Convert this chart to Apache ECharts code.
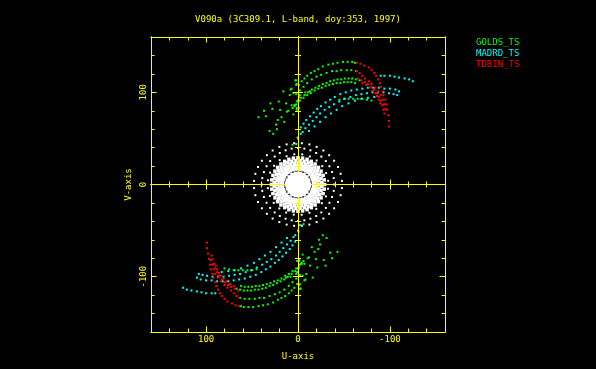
<!DOCTYPE html>
<html>
<head>
<meta charset="utf-8">
<script src="https://cdn.jsdelivr.net/npm/echarts@6/dist/echarts.min.js"></script>
<style>html,body{margin:0;padding:0;background:#000;}#c{width:596px;height:369px;}</style>
</head>
<body>
<div id="c"></div>
<script>
// ---- DATA (u, v) ; every visibility is plotted together with its conjugate (-u, -v) ----
const titleText = 'V090a (3C309.1, L-band, doy:353, 1997)';
const seriesNames = ['GOLDS_TS', 'MADRD_TS', 'TDBIN_TS'];
const uTickLabels = [100, 0, -100];
const vTickLabels = [-100, 0, 100];
const minorTickValues = [-140, -120, -80, -60, -40, -20, 20, 40, 60, 80, 120, 140];
const majorTickValues = [-100, 0, 100];
const zeroMajorValues = [-100, 100];

const goldsTrack = [
  [-1,108],[-4,112],[-7,115],[-10,118],[-14,121],[-18,123],[-22,125],[-27,128],[-33,130],[-38,131],[-43,132],[-49,133],[-54,133],[-59,133],[-62,132],
  [2,98],[-2,102],[-6,106],[-10,110],[-15,114],[-20,117],[-25,119],[-31,121],[-37,123],[-42,123],[-47,124],[-53,124],[-58,124],[-63,123],
  [4,86],[1,90],[-3,94],[-7,97],[-11,100],[-15,103],[-19,105],[-23,107],[-27,109],[-31,110],[-35,112],[-39,113],[-43,114],[-47,114],[-51,115],[-55,115],[-59,115],[-63,114],[-67,113],
  [6,83],[2,87],[-2,91],[-6,94],[-10,97],[-14,99],[-18,102],[-22,104],[-26,105],[-30,107],[-34,108],[-38,109],[-42,110],[-46,110],[-50,111],[-54,111],[-58,111],[-62,110],
  [-45,92],[-50,93],[-55,93],[-60,93],[-65,93],[-70,93],[-75,92],[-80,91]
];
const goldsScatter = [
  [43,73],[37,80],[35,74],[30,88],[28,82],[31,58],[27,55],[24,65],[23,60],[22,70],[21,90],[19.5,81],[18,73],[16,101],[15,68],
  [13,88],[12,79],[10.5,80],[9,97],[8,103],[7,86],[5,76],[4,85],[3,113],[2,108],[1.4,83],[0,91],[-1,83],[0.5,51],[-1,95],[6,43],
  [2,113],[1.4,109],[7,104],[5,99],[0.3,91],[3,86],[1.4,81],[-2,97],[-8,100],[-13,101]
];
const madrdTrack = [
  [-90,118],[-94,118],[-100,118],[-105,117],[-110,116],[-116,115],[-121,114],[-125,112],
  [-3,62],[-6,66],[-9,70],[-13,74],[-17,78],[-21,82],[-25,85],[-30,89],[-35,92],[-40,95],[-46,98],[-52,100],[-58,102],[-64,103],[-70,104],[-76,105],[-82,105],[-88,105],[-94,104],[-100,104],[-106,103],[-110,101],
  [-5,57],[-8,61],[-12,65],[-16,69],[-20,73],[-24,77],[-29,81],[-34,84],[-39,87],[-45,90],[-51,93],[-57,95],[-63,97],[-69,98],[-75,99],[-81,100],[-87,100],[-93,100],[-99,99],[-104,98],[-108,97],
  [-12,58],[-18,63],[-24,68],[-30,73],[-36,77],[-42,81],[-48,85],[-55,88],[-62,91],[-69,93],[-76,94],[-83,95],
  [2,44],[0,50],[-3,55]
];
const tdbinTrack = [
  [-64,132],[-68,131],[-72,129],[-77,127],[-80,124],[-83,121],[-85,118],[-87,114],[-89,110],[-90,106],[-92,101],[-93,97],[-95,92],[-96,87],[-97,81],[-98,75],[-99,69],[-99,63],
  [-64,123],[-67,121],[-70,118],[-73,115],[-77,112],[-80,109],[-84,105],[-87,101],[-90,97],[-92,92],[-93.5,87],[-95,82],
  [-65,115],[-69,113],[-73,111],[-76,109],[-80,106],[-83,103],[-86,99],[-88,95],[-90,91],[-91.5,86],[-93,81],[-94,77],
  [-70,110],[-74,108],[-78,105],[-81,102],[-84,99],[-86,96],[-88,92],[-89.5,88]
];
const whiteCore = [
  [0.5,0.5],
  [4,0.5],[2.8,2.8],[0.5,4],[-2.8,2.8],
  [8,0.5],[6.9,4],[4,6.9],[0.5,8],[-4,6.9],[-6.9,4],
  [11.5,0.5],[10.8,3.9],[8.8,7.4],[5.8,10],[2,11.3],[-2,11.3],[-5.8,10],[-8.8,7.4],[-10.8,3.9]
];
const whiteDense = [
  [17,0],[16.7,3.0],[16.0,5.8],[14.7,8.5],[13.0,10.9],[10.9,13.0],[8.5,14.7],[5.8,16.0],[3.0,16.7],[0,17],[-3.0,16.7],[-5.8,16.0],[-8.5,14.7],[-10.9,13.0],[-13.0,10.9],[-14.7,8.5],[-16.0,5.8],[-16.7,3.0],
  [19.9,1.7],[19.3,5.2],[18.1,8.5],[16.4,11.5],[14.1,14.1],[11.5,16.4],[8.5,18.1],[5.2,19.3],[1.7,19.9],[-1.7,19.9],[-5.2,19.3],[-8.5,18.1],[-11.5,16.4],[-14.1,14.1],[-16.4,11.5],[-18.1,8.5],[-19.3,5.2],[-19.9,1.7],
  [23,0],[22.7,4.0],[21.6,7.9],[19.9,11.5],[17.6,14.8],[14.8,17.6],[11.5,19.9],[7.9,21.6],[4.0,22.7],[0,23],[-4.0,22.7],[-7.9,21.6],[-11.5,19.9],[-14.8,17.6],[-17.6,14.8],[-19.9,11.5],[-21.6,7.9],[-22.7,4.0],
  [25.9,2.3],[25.1,6.7],[23.6,11.0],[21.3,14.9],[18.4,18.4],[14.9,21.3],[11.0,23.6],[6.7,25.1],[2.3,25.9],[-2.3,25.9],[-6.7,25.1],[-11.0,23.6],[-14.9,21.3],[-18.4,18.4],[-21.3,14.9],[-23.6,11.0],[-25.1,6.7],[-25.9,2.3],
  [29,0],[28.6,5.0],[27.3,9.9],[25.1,14.5],[22.2,18.6],[18.6,22.2],[14.5,25.1],[9.9,27.3],[5.0,28.6],[0,29],[-5.0,28.6],[-9.9,27.3],[-14.5,25.1],[-18.6,22.2],[-22.2,18.6],[-25.1,14.5],[-27.3,9.9],[-28.6,5.0]
];
const whiteRings = [
  [32.7,4.6],[30.4,12.9],[26.0,20.3],[19.9,26.4],[12.4,30.6],[4.0,32.8],[-4.6,32.7],[-12.9,30.4],[-20.3,26.0],[-26.4,19.9],[-30.6,12.4],[-32.8,4.0],
  [39.5,0],[38.9,6.9],[37.1,13.5],[34.2,19.8],[30.3,25.4],[25.4,30.3],[19.8,34.2],[13.5,37.1],[6.9,38.9],[0,39.5],[-6.9,38.9],[-13.5,37.1],[-19.8,34.2],[-25.4,30.3],[-30.3,25.4],[-34.2,19.8],[-37.1,13.5],[-38.9,6.9],
  [47.8,3.9],[46.4,11.6],[43.5,19.0],[39.3,25.8],[33.9,31.8],[27.6,36.9],[20.3,40.8],[12.4,43.5],[4.2,44.8],[-4.2,44.8],[-12.4,43.5],[-20.3,40.8],[-27.6,36.9],[-33.9,31.8],[-39.3,25.8],[-43.5,19.0],[-46.4,11.6],[-47.8,3.9]
];

// ---- helpers ----
function withConjugates(pts) {
  const out = [];
  pts.forEach(p => { out.push(p); out.push([-p[0], -p[1]]); });
  return out;
}
const YEL = '#ffff00', GRN = '#00ff00', CYN = '#00ffff', RED = '#ff0000', WHT = '#ffffff';
const FONT = 'DejaVu Sans Mono';

function axisBase(dim, pos, vals, len, inside, onZero) {
  const a = {
    type: 'value', min: -160, max: 160, position: pos,
    axisLine: { show: true, onZero: !!onZero, lineStyle: { color: YEL, width: 1 } },
    axisTick: { show: true, inside: inside, length: len, customValues: vals, lineStyle: { color: YEL, width: 1 } },
    axisLabel: { show: false },
    splitLine: { show: false },
    z: 10
  };
  if (onZero) a.axisLine.onZeroAxisIndex = 0;
  if (dim === 'x') a.inverse = true;
  return a;
}

const xAxes = [
  Object.assign(axisBase('x', 'bottom', majorTickValues, 5.5, true, false), {
    axisLabel: { show: true, customValues: uTickLabels, color: YEL, fontFamily: FONT, fontSize: 9, margin: 3 },
    name: 'U-axis', nameLocation: 'middle', nameGap: 20,
    nameTextStyle: { color: YEL, fontFamily: FONT, fontSize: 9 }
  }),
  axisBase('x', 'bottom', minorTickValues, 3.5, true, false),
  axisBase('x', 'top', majorTickValues, 5.5, true, false),
  axisBase('x', 'top', minorTickValues, 3.5, true, false),
  axisBase('x', 'bottom', minorTickValues, 3, true, true),
  axisBase('x', 'bottom', minorTickValues, 3, false, true),
  axisBase('x', 'bottom', zeroMajorValues, 5, true, true),
  axisBase('x', 'bottom', zeroMajorValues, 5, false, true)
];
const yAxes = [
  Object.assign(axisBase('y', 'left', majorTickValues, 5.5, true, false), {
    axisLabel: { show: true, customValues: vTickLabels, rotate: 90, color: YEL, fontFamily: FONT, fontSize: 9, margin: 3 },
    name: 'V-axis', nameLocation: 'middle', nameGap: 18, nameRotate: 90,
    nameTextStyle: { color: YEL, fontFamily: FONT, fontSize: 9 }
  }),
  axisBase('y', 'left', minorTickValues, 3.5, true, false),
  axisBase('y', 'right', majorTickValues, 5.5, true, false),
  axisBase('y', 'right', minorTickValues, 3.5, true, false),
  axisBase('y', 'left', minorTickValues, 3, true, true),
  axisBase('y', 'left', minorTickValues, 3, false, true),
  axisBase('y', 'left', zeroMajorValues, 5, true, true),
  axisBase('y', 'left', zeroMajorValues, 5, false, true)
];

function scatter(name, data, color, size, symbol, z) {
  return {
    name: name, type: 'scatter', data: data, symbol: symbol || 'rect', symbolSize: size,
    itemStyle: { color: color, opacity: 1 }, silent: true, animation: false, z: z || 3,
    emphasis: { disabled: true }
  };
}

const chart = echarts.init(document.getElementById('c'), null, { renderer: 'canvas' });
chart.setOption({
  backgroundColor: '#000000',
  animation: false,
  title: {
    text: titleText, left: 'center', top: 10,
    textStyle: { color: YEL, fontFamily: FONT, fontSize: 9, fontWeight: 'normal' }
  },
  legend: {
    orient: 'vertical', left: 466, top: 33, itemWidth: 0, itemHeight: 9, itemGap: 2,
    icon: 'none', selectedMode: false,
    textStyle: { fontFamily: FONT, fontSize: 9 },
    data: [
      { name: seriesNames[0], textStyle: { color: GRN } },
      { name: seriesNames[1], textStyle: { color: CYN } },
      { name: seriesNames[2], textStyle: { color: RED } }
    ]
  },
  grid: { left: 151, top: 37, width: 294, height: 295, containLabel: false },
  xAxis: xAxes,
  yAxis: yAxes,
  series: [
    scatter('whiteCore', withConjugates(whiteCore), WHT, 5, 'rect', 12),
    scatter('whiteDense', withConjugates(whiteDense), WHT, 3.5, 'rect', 2),
    scatter('whiteRings', withConjugates(whiteRings), WHT, 2, 'rect', 2),
    scatter(seriesNames[0], withConjugates(goldsTrack.concat(goldsScatter)), GRN, 2),
    scatter(seriesNames[1], withConjugates(madrdTrack), CYN, 2),
    scatter(seriesNames[2], withConjugates(tdbinTrack), RED, 2)
  ]
});
</script>
</body>
</html>
